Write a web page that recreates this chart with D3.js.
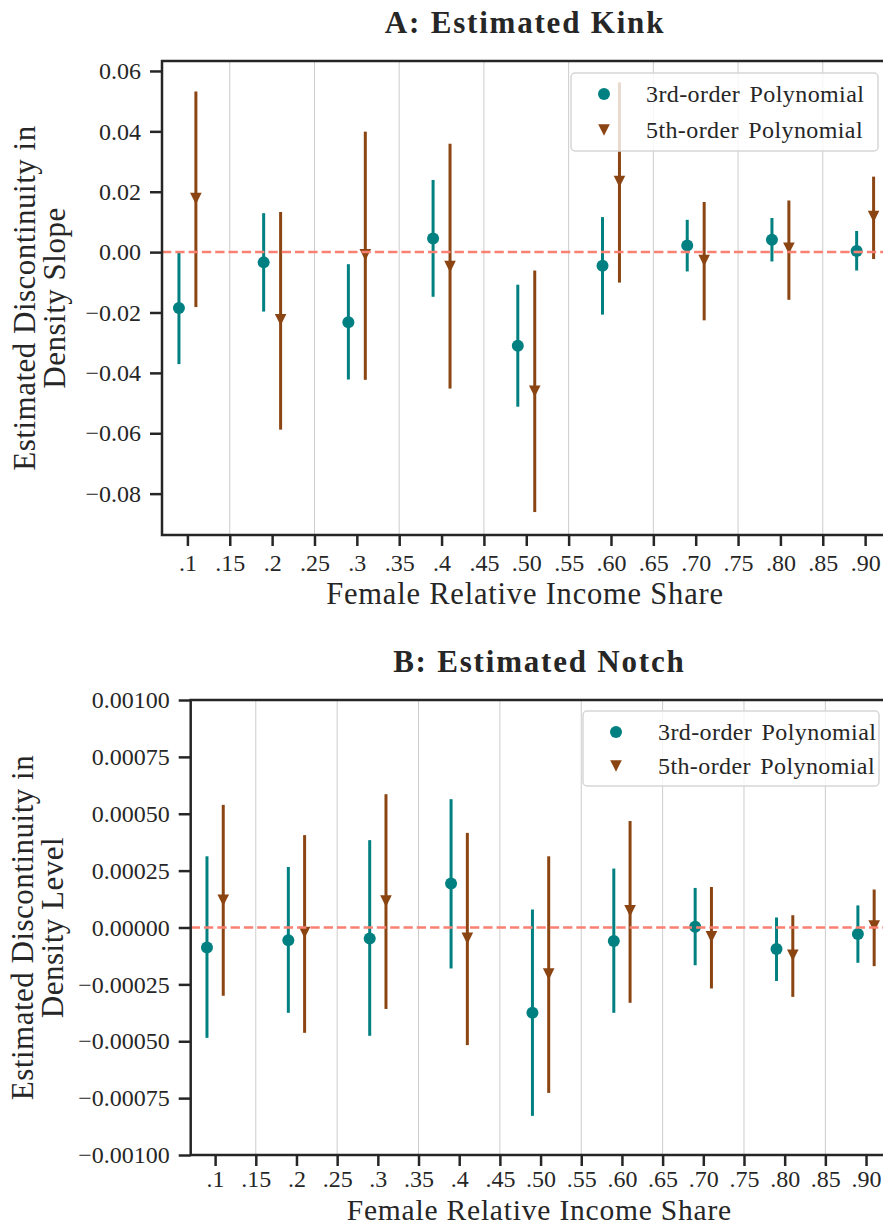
<!DOCTYPE html>
<html>
<head>
<meta charset="utf-8">
<script src="https://cdn.jsdelivr.net/npm/d3@7"></script>
<style>
  body { margin: 0; background: #fff; }
  svg text { font-family: "Liberation Serif", "Times New Roman", "DejaVu Serif", serif; fill: #262626; }
</style>
</head>
<body>
<div id="chart"></div>
<script>
// thresholds where the discontinuity is estimated
var cutoffs = [0.1, 0.2, 0.3, 0.4, 0.5, 0.6, 0.7, 0.8, 0.9];
var xTicks = [0.1, 0.15, 0.2, 0.25, 0.3, 0.35, 0.4, 0.45, 0.5, 0.55, 0.6, 0.65, 0.7, 0.75, 0.8, 0.85, 0.9];
var xTickLabels = [".1", ".15", ".2", ".25", ".3", ".35", ".4", ".45", ".50", ".55", ".60", ".65", ".70", ".75", ".80", ".85", ".90"];
var gridTicks = [0.15, 0.25, 0.35, 0.45, 0.55, 0.65, 0.75, 0.85];
var seriesNames = ["3rd-order Polynomial", "5th-order Polynomial"];

// panel A: kink
var kinkTicks = [0.06, 0.04, 0.02, 0.0, -0.02, -0.04, -0.06, -0.08];
var kinkPoly3 = [-0.0185, -0.0034, -0.0232, 0.0045, -0.0310, -0.0045, 0.0022, 0.0041, 0.0004];
var kinkPoly3Lo = [-0.0371, -0.0197, -0.0422, -0.0148, -0.0512, -0.0207, -0.0064, -0.0031, -0.0061];
var kinkPoly3Hi = [0.0000, 0.0129, -0.0040, 0.0239, -0.0108, 0.0116, 0.0107, 0.0113, 0.0070];
var kinkPoly5 = [0.0177, -0.0224, -0.0009, -0.0048, -0.0461, 0.0234, -0.0028, 0.0013, 0.0118];
var kinkPoly5Lo = [-0.0182, -0.0588, -0.0423, -0.0452, -0.0861, -0.0101, -0.0226, -0.0158, -0.0023];
var kinkPoly5Hi = [0.0532, 0.0133, 0.0399, 0.0359, -0.0061, 0.0562, 0.0166, 0.0171, 0.0250];

// panel B: notch
var notchTicks = [0.001, 0.00075, 0.0005, 0.00025, 0.0, -0.00025, -0.0005, -0.00075, -0.001];
var notchPoly3 = [-0.000088, -0.000056, -0.000048, 0.000193, -0.000375, -0.000059, 0.000003, -0.000095, -0.000029];
var notchPoly3Lo = [-0.000485, -0.000375, -0.000476, -0.000180, -0.000828, -0.000375, -0.000166, -0.000235, -0.000155];
var notchPoly3Hi = [0.000313, 0.000266, 0.000384, 0.000564, 0.000079, 0.000259, 0.000174, 0.000044, 0.000097];
var notchPoly5 = [0.000120, -0.000022, 0.000116, -0.000048, -0.000205, 0.000073, -0.000041, -0.000122, 0.000006];
var notchPoly5Lo = [-0.000300, -0.000463, -0.000358, -0.000517, -0.000727, -0.000331, -0.000268, -0.000305, -0.000170];
var notchPoly5Hi = [0.000539, 0.000406, 0.000586, 0.000416, 0.000313, 0.000468, 0.000178, 0.000054, 0.000167];

var teal = "#008080";
var brown = "#8b4513";
var ink = "#262626";
var serif = '"Liberation Serif", "Times New Roman", "DejaVu Serif", serif';

var svg = d3.select("#chart")
  .append("svg")
  .attr("width", 883)
  .attr("height", 1226)
  .style("font-family", serif);

function triangle(size) {
  // downward triangle centred on the point
  return "M" + (-size) + "," + (-size) + "L" + size + "," + (-size) + "L0," + size + "Z";
}

function drawPanel(p) {
  var xScale = d3.scaleLinear().domain([0.07, 0.927]).range([p.left, 888]);
  var yScale = d3.scaleLinear().domain(p.yDomain).range([p.bottom, p.top]);
  var g = svg.append("g");

  // vertical grid
  g.selectAll(".grid").data(gridTicks).enter().append("line")
    .attr("x1", d => xScale(d)).attr("x2", d => xScale(d))
    .attr("y1", p.top).attr("y2", p.bottom)
    .attr("stroke", "#cccccc").attr("stroke-width", 1);

  // series
  var series = [
    {est: p.est3, lo: p.lo3, hi: p.hi3, color: teal, shift: -0.01, shape: "circle"},
    {est: p.est5, lo: p.lo5, hi: p.hi5, color: brown, shift: 0.01, shape: "tri"}
  ];
  series.forEach(function(s) {
    var rows = cutoffs.map((c, i) => ({x: c + s.shift, est: s.est[i], lo: s.lo[i], hi: s.hi[i]}));
    g.selectAll(null).data(rows).enter().append("line")
      .attr("x1", d => xScale(d.x)).attr("x2", d => xScale(d.x))
      .attr("y1", d => yScale(d.lo)).attr("y2", d => yScale(d.hi))
      .attr("stroke", s.color).attr("stroke-width", 3);
    if (s.shape == "circle") {
      g.selectAll(null).data(rows).enter().append("circle")
        .attr("cx", d => xScale(d.x)).attr("cy", d => yScale(d.est))
        .attr("r", 6).attr("fill", s.color);
    } else {
      g.selectAll(null).data(rows).enter().append("path")
        .attr("transform", d => "translate(" + xScale(d.x) + "," + yScale(d.est) + ")")
        .attr("d", triangle(5.8)).attr("fill", s.color);
    }
  });

  // zero line
  g.append("line")
    .attr("x1", p.left).attr("x2", 888)
    .attr("y1", yScale(0)).attr("y2", yScale(0))
    .attr("stroke", "#fa8072").attr("stroke-width", 2.5)
    .attr("stroke-dasharray", "9.3,4");

  // axes
  var bottomAxis = d3.axisBottom(xScale)
    .tickValues(xTicks)
    .tickFormat((d, i) => xTickLabels[i])
    .tickSize(11).tickPadding(p.tickPad);
  var ax = g.append("g")
    .attr("transform", "translate(0," + p.bottom + ")")
    .call(bottomAxis)
    .attr("font-family", serif);
  ax.select(".domain").remove();
  ax.selectAll(".tick line").attr("stroke", ink).attr("stroke-width", 2.5);
  ax.selectAll(".tick text").attr("font-size", 24).attr("fill", ink);

  var leftAxis = d3.axisLeft(yScale)
    .tickValues(p.yTicks)
    .tickFormat(d3.format(p.fmt))
    .tickSize(12).tickPadding(9);
  var ay = g.append("g")
    .attr("transform", "translate(" + p.left + ",0)")
    .call(leftAxis)
    .attr("font-family", serif);
  ay.select(".domain").remove();
  ay.selectAll(".tick line").attr("stroke", ink).attr("stroke-width", 2.5);
  ay.selectAll(".tick text").attr("font-size", 24).attr("fill", ink);

  // spines: left, top, bottom
  g.append("path")
    .attr("d", "M888," + p.top + "H" + p.left + "V" + p.bottom + "H888")
    .attr("fill", "none").attr("stroke", ink).attr("stroke-width", 2.5);

  // legend
  var lg = g.append("g");
  lg.append("rect")
    .attr("x", p.legend.x).attr("y", p.legend.y)
    .attr("width", p.legend.w).attr("height", p.legend.h)
    .attr("rx", 4)
    .attr("fill", "white").attr("fill-opacity", 0.8)
    .attr("stroke", "#d6d6d6").attr("stroke-width", 1.5);
  lg.append("circle")
    .attr("cx", p.legend.x + 33).attr("cy", p.legend.row1)
    .attr("r", 6).attr("fill", teal);
  lg.append("path")
    .attr("transform", "translate(" + (p.legend.x + 33) + "," + p.legend.row2 + ")")
    .attr("d", triangle(5.8)).attr("fill", brown);
  [p.legend.row1, p.legend.row2].forEach(function(ry, i) {
    lg.append("text")
      .attr("x", p.legend.x + 75).attr("y", ry + 8)
      .attr("font-size", 24)
      .attr("letter-spacing", 0.4)
      .attr("word-spacing", 3)
      .text(seriesNames[i]);
  });

  // title
  g.append("text")
    .attr("x", (p.left + 888) / 2).attr("y", p.top - 28)
    .attr("text-anchor", "middle")
    .attr("font-size", 31).attr("font-weight", "bold")
    .attr("letter-spacing", 1.8)
    .text(p.title);

  // axis labels
  g.append("text")
    .attr("x", (p.left + 888) / 2).attr("y", p.bottom + p.xLabelGap)
    .attr("text-anchor", "middle")
    .attr("font-size", p.xLabelSize)
    .attr("letter-spacing", 0.8)
    .text("Female Relative Income Share");

  var cy = (p.top + p.bottom) / 2;
  p.yLabel.forEach(function(line, i) {
    g.append("text")
      .attr("transform", "translate(" + (p.yLabelX + i * 30) + "," + cy + ") rotate(-90)")
      .attr("text-anchor", "middle")
      .attr("font-size", 31)
      .attr("letter-spacing", 0.5)
      .text(line);
  });
}

drawPanel({
  left: 162, top: 61, bottom: 535,
  yDomain: [-0.0937, 0.0633], yTicks: kinkTicks, fmt: ".2f",
  est3: kinkPoly3, lo3: kinkPoly3Lo, hi3: kinkPoly3Hi,
  est5: kinkPoly5, lo5: kinkPoly5Lo, hi5: kinkPoly5Hi,
  title: "A: Estimated Kink", xLabelGap: 69, xLabelSize: 30.5, tickPad: 8,
  yLabel: ["Estimated Discontinuity in", "Density Slope"], yLabelX: 35,
  legend: {x: 571, y: 73, w: 307, h: 78, row1: 94, row2: 130}
});

drawPanel({
  left: 190.7, top: 700, bottom: 1155,
  yDomain: [-0.001, 0.001], yTicks: notchTicks, fmt: ".5f",
  est3: notchPoly3, lo3: notchPoly3Lo, hi3: notchPoly3Hi,
  est5: notchPoly5, lo5: notchPoly5Lo, hi5: notchPoly5Hi,
  title: "B: Estimated Notch", xLabelGap: 64.5, xLabelSize: 29.5, tickPad: 4,
  yLabel: ["Estimated Discontinuity in", "Density Level"], yLabelX: 33,
  legend: {x: 583, y: 711, w: 296, h: 75, row1: 732, row2: 766}
});
</script>
</body>
</html>
